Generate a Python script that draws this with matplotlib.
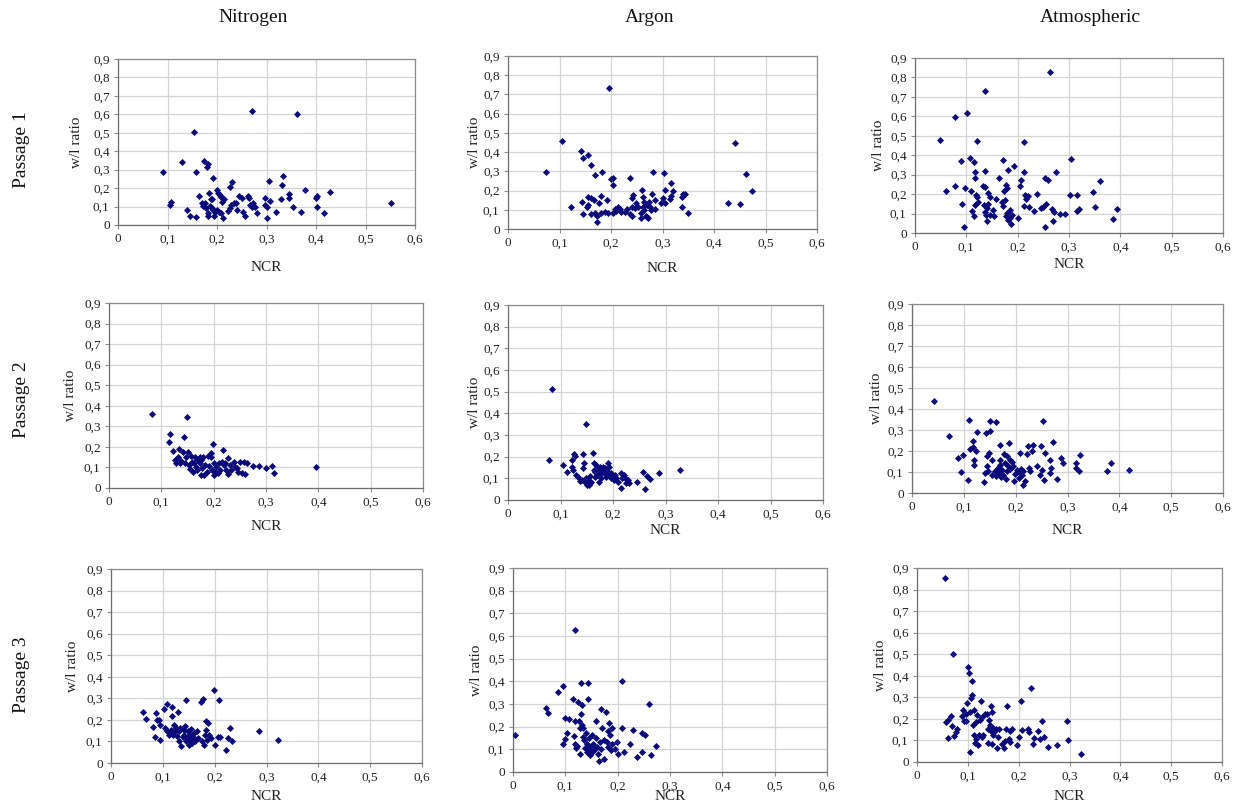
import matplotlib
matplotlib.use("Agg")
import matplotlib.pyplot as plt

plt.rcParams['font.family'] = ['Liberation Serif', 'DejaVu Serif']

# ---------------- data ----------------
gases = ["Nitrogen", "Argon", "Atmospheric"]
passages = ["Passage 1", "Passage 2", "Passage 3"]
x_ticks = [0, 0.1, 0.2, 0.3, 0.4, 0.5, 0.6]
x_ticklabels = ["0", "0,1", "0,2", "0,3", "0,4", "0,5", "0,6"]
y_ticks = [0, 0.1, 0.2, 0.3, 0.4, 0.5, 0.6, 0.7, 0.8, 0.9]
y_ticklabels = ["0", "0,1", "0,2", "0,3", "0,4", "0,5", "0,6", "0,7", "0,8", "0,9"]

# Nitrogen, passage 1
n1_x = [0.091, 0.105, 0.108, 0.13, 0.153, 0.157, 0.14, 0.145, 0.158, 0.164, 0.173, 0.179, 0.182,
        0.192, 0.184, 0.172, 0.175, 0.177, 0.181, 0.182, 0.187, 0.19, 0.189, 0.192, 0.196, 0.194,
        0.199, 0.202, 0.206, 0.209, 0.211, 0.214, 0.209, 0.212, 0.199, 0.204, 0.227, 0.231, 0.229,
        0.234, 0.238, 0.223, 0.226, 0.24, 0.245, 0.25, 0.252, 0.256, 0.263, 0.265, 0.27, 0.266,
        0.27, 0.273, 0.276, 0.28, 0.297, 0.297, 0.301, 0.3, 0.305, 0.308, 0.319, 0.33, 0.332,
        0.334, 0.345, 0.346, 0.354, 0.361, 0.369, 0.378, 0.4, 0.403, 0.403, 0.417, 0.428, 0.551,
        0.169, 0.186]
n1_y = [0.29, 0.11, 0.125, 0.34, 0.505, 0.29, 0.08, 0.05, 0.045, 0.155, 0.348, 0.313, 0.33,
        0.257, 0.175, 0.103, 0.118, 0.09, 0.063, 0.05, 0.14, 0.14, 0.09, 0.08, 0.072, 0.05,
        0.19, 0.176, 0.163, 0.154, 0.127, 0.14, 0.063, 0.036, 0.08, 0.072, 0.205, 0.232, 0.11,
        0.118, 0.121, 0.078, 0.09, 0.08, 0.158, 0.149, 0.072, 0.05, 0.158, 0.145, 0.62, 0.11,
        0.096, 0.118, 0.1, 0.063, 0.149, 0.11, 0.1, 0.036, 0.24, 0.132, 0.069, 0.141, 0.217,
        0.268, 0.149, 0.167, 0.1, 0.603, 0.069, 0.19, 0.149, 0.159, 0.1, 0.063, 0.178, 0.118,
        0.12, 0.105]

# Argon, passage 1
a1_x = [0.073, 0.105, 0.123, 0.142, 0.146, 0.155, 0.162, 0.168, 0.183, 0.197, 0.2, 0.204, 0.204,
        0.144, 0.146, 0.153, 0.155, 0.155, 0.162, 0.167, 0.161, 0.168, 0.172, 0.173, 0.176, 0.181,
        0.18, 0.188, 0.193, 0.194, 0.204, 0.207, 0.21, 0.214, 0.217, 0.22, 0.228, 0.232, 0.236,
        0.236, 0.24, 0.241, 0.241, 0.243, 0.246, 0.249, 0.252, 0.258, 0.259, 0.261, 0.262, 0.262,
        0.265, 0.265, 0.267, 0.269, 0.27, 0.272, 0.273, 0.275, 0.277, 0.28, 0.282, 0.285, 0.285,
        0.298, 0.301, 0.303, 0.304, 0.304, 0.315, 0.317, 0.32, 0.317, 0.337, 0.338, 0.34, 0.343,
        0.35, 0.427, 0.44, 0.45, 0.463, 0.474]
a1_y = [0.296, 0.457, 0.113, 0.407, 0.371, 0.383, 0.331, 0.281, 0.296, 0.731, 0.258, 0.263, 0.227,
        0.14, 0.078, 0.116, 0.125, 0.168, 0.16, 0.151, 0.078, 0.081, 0.035, 0.069, 0.137, 0.172,
        0.081, 0.09, 0.151, 0.081, 0.085, 0.102, 0.094, 0.116, 0.102, 0.09, 0.09, 0.102, 0.263,
        0.078, 0.068, 0.116, 0.16, 0.177, 0.107, 0.137, 0.116, 0.055, 0.081, 0.203, 0.168, 0.116,
        0.142, 0.099, 0.069, 0.125, 0.064, 0.055, 0.142, 0.116, 0.099, 0.182, 0.298, 0.102, 0.151,
        0.133, 0.16, 0.293, 0.203, 0.133, 0.156, 0.237, 0.199, 0.172, 0.168, 0.116, 0.182, 0.182,
        0.085, 0.133, 0.445, 0.13, 0.286, 0.199]

# Atmospheric, passage 1
t1_x = [0.049, 0.06, 0.078, 0.077, 0.089, 0.092, 0.095, 0.098, 0.101, 0.108, 0.11, 0.111, 0.114,
        0.115, 0.117, 0.117, 0.118, 0.117, 0.12, 0.121, 0.122, 0.132, 0.136, 0.136, 0.137, 0.134,
        0.137, 0.138, 0.141, 0.142, 0.141, 0.143, 0.146, 0.146, 0.152, 0.154, 0.158, 0.163, 0.169,
        0.171, 0.172, 0.173, 0.176, 0.177, 0.18, 0.178, 0.18, 0.181, 0.182, 0.185, 0.186, 0.187,
        0.189, 0.193, 0.201, 0.204, 0.207, 0.212, 0.213, 0.213, 0.215, 0.217, 0.221, 0.222, 0.232,
        0.237, 0.245, 0.25, 0.253, 0.254, 0.256, 0.259, 0.263, 0.266, 0.269, 0.27, 0.274, 0.282,
        0.292, 0.302, 0.304, 0.315, 0.316, 0.319, 0.346, 0.35, 0.361, 0.386, 0.394]
t1_y = [0.48, 0.216, 0.595, 0.244, 0.369, 0.151, 0.031, 0.23, 0.617, 0.384, 0.214, 0.115, 0.086,
        0.364, 0.314, 0.283, 0.196, 0.142, 0.184, 0.472, 0.16, 0.24, 0.732, 0.235, 0.321, 0.142,
        0.108, 0.094, 0.129, 0.151, 0.063, 0.206, 0.184, 0.091, 0.117, 0.086, 0.175, 0.283, 0.158,
        0.137, 0.377, 0.214, 0.172, 0.249, 0.232, 0.086, 0.103, 0.322, 0.065, 0.077, 0.117, 0.048,
        0.094, 0.346, 0.077, 0.24, 0.274, 0.466, 0.312, 0.141, 0.197, 0.177, 0.189, 0.134, 0.111,
        0.201, 0.129, 0.132, 0.031, 0.283, 0.151, 0.274, 0.828, 0.123, 0.06, 0.108, 0.312, 0.098,
        0.099, 0.194, 0.381, 0.197, 0.111, 0.125, 0.209, 0.134, 0.269, 0.074, 0.125]

# Nitrogen, passage 2
n2_x = [0.082, 0.114, 0.117, 0.123, 0.127, 0.128, 0.132, 0.133, 0.135, 0.138, 0.141, 0.144, 0.146,
        0.147, 0.149, 0.151, 0.152, 0.154, 0.157, 0.158, 0.16, 0.163, 0.165, 0.166, 0.168, 0.17,
        0.173, 0.173, 0.175, 0.176, 0.177, 0.179, 0.181, 0.184, 0.187, 0.19, 0.192, 0.194, 0.195,
        0.196, 0.198, 0.2, 0.201, 0.203, 0.204, 0.208, 0.211, 0.213, 0.215, 0.217, 0.219, 0.222,
        0.223, 0.227, 0.228, 0.232, 0.234, 0.238, 0.241, 0.245, 0.247, 0.251, 0.255, 0.258, 0.259,
        0.263, 0.276, 0.287, 0.3, 0.312, 0.315, 0.396]
n2_y = [0.359, 0.223, 0.261, 0.18, 0.136, 0.123, 0.152, 0.188, 0.12, 0.133, 0.176, 0.246, 0.12,
        0.152, 0.343, 0.176, 0.112, 0.091, 0.155, 0.128, 0.079, 0.12, 0.152, 0.104, 0.087, 0.136,
        0.149, 0.12, 0.063, 0.136, 0.095, 0.152, 0.063, 0.112, 0.079, 0.155, 0.107, 0.152, 0.172,
        0.087, 0.212, 0.12, 0.063, 0.079, 0.104, 0.074, 0.12, 0.087, 0.128, 0.184, 0.112, 0.12,
        0.087, 0.144, 0.066, 0.112, 0.087, 0.128, 0.104, 0.095, 0.079, 0.128, 0.074, 0.128, 0.068,
        0.123, 0.107, 0.107, 0.095, 0.107, 0.071, 0.104]

# Argon, passage 2
a2_x = [0.079, 0.084, 0.105, 0.113, 0.121, 0.122, 0.124, 0.125, 0.128, 0.13, 0.133, 0.137, 0.14,
        0.142, 0.143, 0.145, 0.146, 0.148, 0.149, 0.15, 0.152, 0.154, 0.156, 0.157, 0.159, 0.162,
        0.163, 0.164, 0.165, 0.166, 0.168, 0.17, 0.171, 0.173, 0.175, 0.177, 0.178, 0.18, 0.181,
        0.183, 0.185, 0.187, 0.19, 0.19, 0.192, 0.194, 0.196, 0.197, 0.199, 0.201, 0.203, 0.206,
        0.21, 0.215, 0.216, 0.218, 0.221, 0.224, 0.225, 0.229, 0.23, 0.246, 0.257, 0.26, 0.265,
        0.27, 0.287, 0.327]
a2_y = [0.185, 0.512, 0.162, 0.128, 0.185, 0.154, 0.138, 0.212, 0.203, 0.115, 0.108, 0.088, 0.092,
        0.212, 0.149, 0.169, 0.085, 0.1, 0.351, 0.069, 0.092, 0.069, 0.111, 0.077, 0.085, 0.218,
        0.138, 0.172, 0.108, 0.131, 0.162, 0.115, 0.138, 0.085, 0.154, 0.123, 0.1, 0.138, 0.154,
        0.126, 0.146, 0.108, 0.131, 0.172, 0.154, 0.115, 0.1, 0.126, 0.108, 0.092, 0.115, 0.1,
        0.085, 0.123, 0.054, 0.1, 0.115, 0.095, 0.08, 0.092, 0.077, 0.085, 0.131, 0.049, 0.111,
        0.095, 0.126, 0.138]

# Atmospheric, passage 2
t2_x = [0.042, 0.071, 0.088, 0.094, 0.099, 0.109, 0.11, 0.112, 0.117, 0.117, 0.119, 0.12, 0.124,
        0.126, 0.139, 0.141, 0.143, 0.144, 0.144, 0.146, 0.148, 0.151, 0.151, 0.154, 0.155, 0.16,
        0.162, 0.163, 0.165, 0.167, 0.169, 0.17, 0.17, 0.172, 0.173, 0.176, 0.178, 0.179, 0.181,
        0.183, 0.184, 0.186, 0.187, 0.189, 0.19, 0.192, 0.195, 0.197, 0.199, 0.203, 0.206, 0.207,
        0.209, 0.21, 0.212, 0.214, 0.215, 0.218, 0.222, 0.224, 0.225, 0.228, 0.231, 0.234, 0.242,
        0.247, 0.249, 0.25, 0.252, 0.255, 0.256, 0.266, 0.266, 0.269, 0.272, 0.279, 0.288, 0.292,
        0.316, 0.317, 0.322, 0.325, 0.376, 0.383, 0.419]
t2_y = [0.436, 0.273, 0.166, 0.098, 0.182, 0.063, 0.349, 0.209, 0.246, 0.217, 0.132, 0.155, 0.201,
        0.29, 0.051, 0.095, 0.288, 0.174, 0.13, 0.103, 0.19, 0.344, 0.293, 0.155, 0.087, 0.103,
        0.336, 0.082, 0.119, 0.095, 0.158, 0.132, 0.23, 0.074, 0.111, 0.087, 0.187, 0.143, 0.067,
        0.106, 0.177, 0.127, 0.238, 0.158, 0.116, 0.149, 0.127, 0.055, 0.092, 0.111, 0.071, 0.098,
        0.19, 0.116, 0.087, 0.103, 0.04, 0.055, 0.187, 0.225, 0.119, 0.106, 0.201, 0.227, 0.13,
        0.087, 0.222, 0.111, 0.344, 0.06, 0.19, 0.158, 0.095, 0.119, 0.241, 0.067, 0.166, 0.143,
        0.143, 0.119, 0.106, 0.179, 0.103, 0.143, 0.108]

# Nitrogen, passage 3
n3_x = [0.061, 0.068, 0.081, 0.084, 0.086, 0.088, 0.092, 0.095, 0.095, 0.102, 0.104, 0.109, 0.109,
        0.111, 0.113, 0.116, 0.118, 0.118, 0.12, 0.121, 0.123, 0.125, 0.127, 0.129, 0.131, 0.132,
        0.134, 0.136, 0.138, 0.14, 0.141, 0.143, 0.145, 0.145, 0.147, 0.148, 0.15, 0.152, 0.153,
        0.155, 0.156, 0.158, 0.161, 0.163, 0.165, 0.167, 0.174, 0.176, 0.177, 0.179, 0.181, 0.183,
        0.184, 0.186, 0.188, 0.19, 0.193, 0.198, 0.201, 0.206, 0.208, 0.211, 0.221, 0.226, 0.23,
        0.233, 0.285, 0.322]
n3_y = [0.235, 0.205, 0.167, 0.119, 0.231, 0.201, 0.198, 0.177, 0.106, 0.25, 0.162, 0.273, 0.147,
        0.131, 0.139, 0.154, 0.262, 0.22, 0.131, 0.177, 0.147, 0.162, 0.123, 0.236, 0.1, 0.147,
        0.162, 0.08, 0.119, 0.154, 0.131, 0.173, 0.1, 0.293, 0.119, 0.147, 0.082, 0.108, 0.131,
        0.157, 0.093, 0.119, 0.139, 0.1, 0.147, 0.116, 0.281, 0.1, 0.298, 0.085, 0.131, 0.154,
        0.193, 0.108, 0.185, 0.131, 0.116, 0.34, 0.082, 0.119, 0.29, 0.119, 0.062, 0.116, 0.162,
        0.103, 0.15, 0.108]

# Argon, passage 3
a3_x = [0.003, 0.063, 0.066, 0.086, 0.096, 0.096, 0.099, 0.1, 0.104, 0.107, 0.115, 0.116, 0.119,
        0.118, 0.119, 0.12, 0.123, 0.125, 0.126, 0.128, 0.128, 0.129, 0.13, 0.131, 0.132, 0.133,
        0.134, 0.136, 0.137, 0.139, 0.141, 0.142, 0.144, 0.144, 0.145, 0.146, 0.147, 0.149, 0.15,
        0.151, 0.153, 0.155, 0.158, 0.158, 0.16, 0.162, 0.164, 0.166, 0.168, 0.169, 0.171, 0.173,
        0.174, 0.178, 0.179, 0.181, 0.182, 0.184, 0.185, 0.187, 0.189, 0.19, 0.194, 0.198, 0.201,
        0.208, 0.208, 0.213, 0.224, 0.23, 0.236, 0.246, 0.247, 0.252, 0.259, 0.264, 0.273]
a3_y = [0.165, 0.283, 0.261, 0.354, 0.379, 0.125, 0.147, 0.239, 0.17, 0.236, 0.32, 0.158, 0.627,
        0.224, 0.125, 0.106, 0.115, 0.31, 0.224, 0.192, 0.081, 0.391, 0.254, 0.207, 0.295, 0.155,
        0.195, 0.143, 0.106, 0.17, 0.088, 0.125, 0.391, 0.324, 0.15, 0.103, 0.074, 0.115, 0.088,
        0.165, 0.125, 0.096, 0.224, 0.15, 0.111, 0.081, 0.049, 0.133, 0.28, 0.103, 0.192, 0.14,
        0.059, 0.265, 0.133, 0.111, 0.18, 0.218, 0.162, 0.096, 0.192, 0.125, 0.103, 0.133, 0.081,
        0.401, 0.192, 0.088, 0.122, 0.184, 0.066, 0.088, 0.17, 0.165, 0.302, 0.077, 0.114]

# Atmospheric, passage 3
t3_x = [0.055, 0.057, 0.061, 0.066, 0.068, 0.07, 0.06, 0.072, 0.076, 0.079, 0.088, 0.091, 0.093,
        0.096, 0.097, 0.099, 0.1, 0.103, 0.104, 0.105, 0.107, 0.108, 0.109, 0.11, 0.112, 0.113,
        0.114, 0.116, 0.117, 0.118, 0.12, 0.122, 0.124, 0.125, 0.127, 0.128, 0.13, 0.134, 0.137,
        0.139, 0.14, 0.142, 0.143, 0.145, 0.145, 0.147, 0.148, 0.149, 0.15, 0.152, 0.155, 0.157,
        0.16, 0.162, 0.168, 0.171, 0.173, 0.175, 0.178, 0.18, 0.182, 0.183, 0.186, 0.196, 0.201,
        0.205, 0.207, 0.219, 0.221, 0.224, 0.228, 0.231, 0.238, 0.242, 0.245, 0.25, 0.257, 0.275,
        0.295, 0.298, 0.323]
t3_y = [0.854, 0.186, 0.197, 0.213, 0.166, 0.5, 0.112, 0.121, 0.14, 0.151, 0.213, 0.241, 0.191,
        0.225, 0.191, 0.275, 0.443, 0.411, 0.047, 0.233, 0.295, 0.311, 0.376, 0.171, 0.124, 0.241,
        0.089, 0.186, 0.109, 0.217, 0.081, 0.124, 0.194, 0.284, 0.116, 0.21, 0.124, 0.221, 0.225,
        0.155, 0.09, 0.197, 0.171, 0.259, 0.144, 0.085, 0.233, 0.124, 0.158, 0.14, 0.155, 0.065,
        0.116, 0.155, 0.085, 0.065, 0.096, 0.155, 0.259, 0.109, 0.143, 0.093, 0.155, 0.078, 0.116,
        0.284, 0.148, 0.155, 0.14, 0.342, 0.082, 0.112, 0.143, 0.109, 0.19, 0.116, 0.07, 0.078,
        0.19, 0.101, 0.039]

series = [[(n1_x, n1_y), (a1_x, a1_y), (t1_x, t1_y)],
          [(n2_x, n2_y), (a2_x, a2_y), (t2_x, t2_y)],
          [(n3_x, n3_y), (a3_x, a3_y), (t3_x, t3_y)]]

# ---------------- layout (pixel boxes: left, top, right, bottom) ----------------
W, H = 1234, 809
boxes = [[(118, 59, 415, 225), (508, 56, 817, 229), (915, 58, 1223, 233)],
         [(109, 303, 423, 488), (508, 305, 823, 500), (912, 304, 1223, 493)],
         [(111, 569, 422, 763), (513, 568, 827, 772), (917, 568, 1222, 762)]]
ylabel_x = [[76, 474, 879], [70, 474, 877], [73, 477, 881]]
xlabel_y = [[268, 268, 265], [527, 530, 530], [797, 797, 797]]

fig = plt.figure(figsize=(W / 100, H / 100), dpi=100)
navy = '#0a0a7a'
grid_c = '#d4d4d4'
spine_c = '#8c8c8c'

for r in range(3):
    for c in range(3):
        l, t, rr, b = boxes[r][c]
        ax = fig.add_axes([l / W, 1 - b / H, (rr - l) / W, (b - t) / H])
        xs, ys = series[r][c]
        ax.scatter(xs, ys, marker='D', s=13, color=navy, linewidths=0, zorder=3)
        ax.set_xlim(0, 0.6)
        ax.set_ylim(0, 0.9)
        ax.set_xticks(x_ticks)
        ax.set_xticklabels(x_ticklabels)
        ax.set_yticks(y_ticks)
        ax.set_yticklabels(y_ticklabels)
        ax.tick_params(axis='both', labelsize=9.5, length=3, width=0.8, color=spine_c,
                       pad=3, labelcolor='#222222')
        ax.grid(True, color=grid_c, linewidth=0.9, zorder=0)
        ax.set_axisbelow(True)
        for s in ax.spines.values():
            s.set_color(spine_c)
            s.set_linewidth(0.9)
        ax.spines['left'].set_color('#6e6e6e')
        ax.spines['bottom'].set_color('#6e6e6e')
        ax.set_ylabel("w/l ratio", fontsize=11, color='#222222')
        ax.yaxis.set_label_coords((ylabel_x[r][c] - l) / (rr - l), 0.5)
        ax.set_xlabel("NCR", fontsize=11, color='#222222')
        ax.xaxis.set_label_coords(0.5, 1 - (xlabel_y[r][c] - t) / (b - t))
        ax.xaxis.label.set_va('center')
        ax.yaxis.label.set_va('center')

# column titles
title_x = [253, 650, 1090]
for c, g in enumerate(gases):
    fig.text(title_x[c] / W, 1 - 18 / H, g, ha='center', va='center', fontsize=14, color='#111111')

# row labels
row_y = [150, 400, 675]
for r, p in enumerate(passages):
    fig.text(22 / W, 1 - row_y[r] / H, p, ha='center', va='center', rotation=90,
             fontsize=14, color='#111111')

fig.savefig("out.png", dpi=100, facecolor='white')
